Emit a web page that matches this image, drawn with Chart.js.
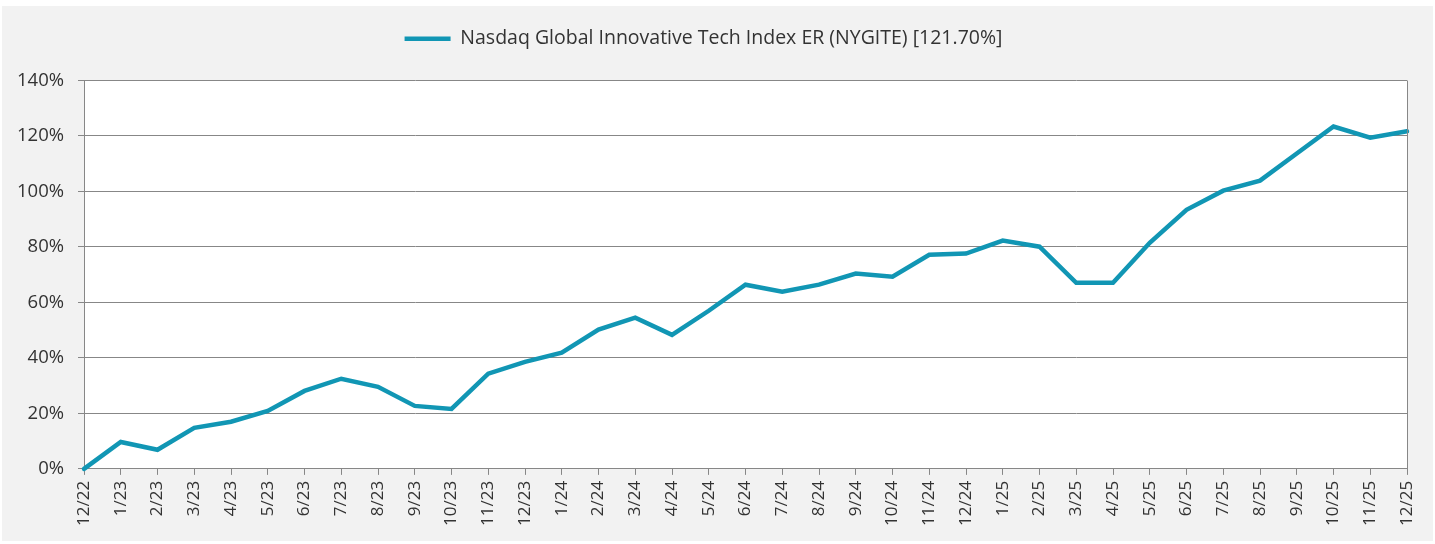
<!DOCTYPE html>
<html>
<head>
<meta charset="utf-8">
<script src="https://cdn.jsdelivr.net/npm/chart.js@4"></script>
<style>
  html, body { margin: 0; padding: 0; background: #ffffff; }
  canvas { display: block; }
</style>
</head>
<body>
<canvas id="chart" width="1435" height="544"></canvas>
<script>
// months on the x axis
var months = ['12/22', '1/23', '2/23', '3/23', '4/23', '5/23', '6/23', '7/23', '8/23', '9/23', '10/23', '11/23',
    '12/23', '1/24', '2/24', '3/24', '4/24', '5/24', '6/24', '7/24', '8/24', '9/24', '10/24', '11/24',
    '12/24', '1/25', '2/25', '3/25', '4/25', '5/25', '6/25', '7/25', '8/25', '9/25', '10/25', '11/25', '12/25'];

// cumulative return, percent
var nygiteReturn = [0, 9.7, 6.9, 14.8, 17.0, 20.9, 28.1, 32.5, 29.6, 22.7, 21.6, 34.3,
    38.6, 41.9, 50.2, 54.5, 48.3, 57.0, 66.4, 63.9, 66.4, 70.4, 69.3, 77.2,
    77.6, 82.3, 80.1, 67.1, 67.1, 81.5, 93.4, 100.3, 103.9, 113.7, 123.4, 119.4, 121.7];

var seriesLabel = 'Nasdaq Global Innovative Tech Index ER (NYGITE) [121.70%]';
var yTicks = [0, 20, 40, 60, 80, 100, 120, 140];

var textColor = '#333333';
var gridColor = '#878787';
var fontFamily = '"Open Sans", Lato, sans-serif';

// grey panel behind everything, white plot area with a frame
var backdrop = {
    id: 'backdrop',
    beforeInit: function (chart) {
        var fit = chart.legend.fit;
        chart.legend.fit = function () {
            fit.call(this);
            this.height += 22;
        };
    },
    beforeDraw: function (chart) {
        var ctx = chart.ctx;
        var a = chart.chartArea;
        ctx.save();
        ctx.fillStyle = '#ffffff';
        ctx.fillRect(0, 0, chart.width, chart.height);
        ctx.fillStyle = '#f2f2f2';
        ctx.fillRect(2, 6, chart.width - 4, chart.height - 9);
        ctx.fillStyle = '#ffffff';
        ctx.fillRect(a.left, a.top, a.right - a.left, a.bottom - a.top);
        ctx.restore();
    },
    afterDatasetsDraw: function (chart) {
        var ctx = chart.ctx;
        var a = chart.chartArea;
        ctx.save();
        ctx.strokeStyle = gridColor;
        ctx.lineWidth = 1;
        ctx.beginPath();
        ctx.moveTo(Math.round(a.right) + 0.5, a.top);
        ctx.lineTo(Math.round(a.right) + 0.5, a.bottom);
        ctx.stroke();
        ctx.restore();
    }
};

new Chart(document.getElementById('chart'), {
    type: 'line',
    data: {
        labels: months,
        datasets: [{
            label: seriesLabel,
            data: nygiteReturn,
            borderColor: '#1196b4',
            backgroundColor: '#1196b4',
            borderWidth: 4.5,
            borderCapStyle: 'round',
            pointRadius: 0,
            pointStyle: 'line',
            tension: 0,
            fill: false,
            clip: false
        }]
    },
    options: {
        responsive: false,
        animation: false,
        layout: { padding: { top: 19, right: 28, left: 0, bottom: 12 } },
        plugins: {
            legend: {
                position: 'top',
                labels: {
                    usePointStyle: true,
                    pointStyleWidth: 46,
                    color: textColor,
                    padding: 10,
                    font: { family: fontFamily, size: 19.5 }
                }
            },
            tooltip: { enabled: false }
        },
        scales: {
            x: {
                offset: false,
                grid: {
                    drawOnChartArea: false,
                    drawTicks: true,
                    tickLength: 6,
                    color: gridColor
                },
                border: { color: gridColor, width: 1 },
                ticks: {
                    color: textColor,
                    minRotation: 90,
                    maxRotation: 90,
                    autoSkip: false,
                    padding: 6,
                    font: { family: fontFamily, size: 17 }
                }
            },
            y: {
                min: 0,
                max: 140,
                afterFit: function (scale) { scale.width = 84; },
                afterBuildTicks: function (scale) {
                    scale.ticks = yTicks.map(function (v) { return { value: v }; });
                },
                grid: {
                    color: gridColor,
                    tickLength: 6,
                    drawTicks: true
                },
                border: { color: gridColor, width: 1 },
                ticks: {
                    color: textColor,
                    padding: 14,
                    font: { family: fontFamily, size: 18.5 },
                    callback: function (v) { return v + '%'; }
                }
            }
        }
    },
    plugins: [backdrop]
});
</script>
</body>
</html>
